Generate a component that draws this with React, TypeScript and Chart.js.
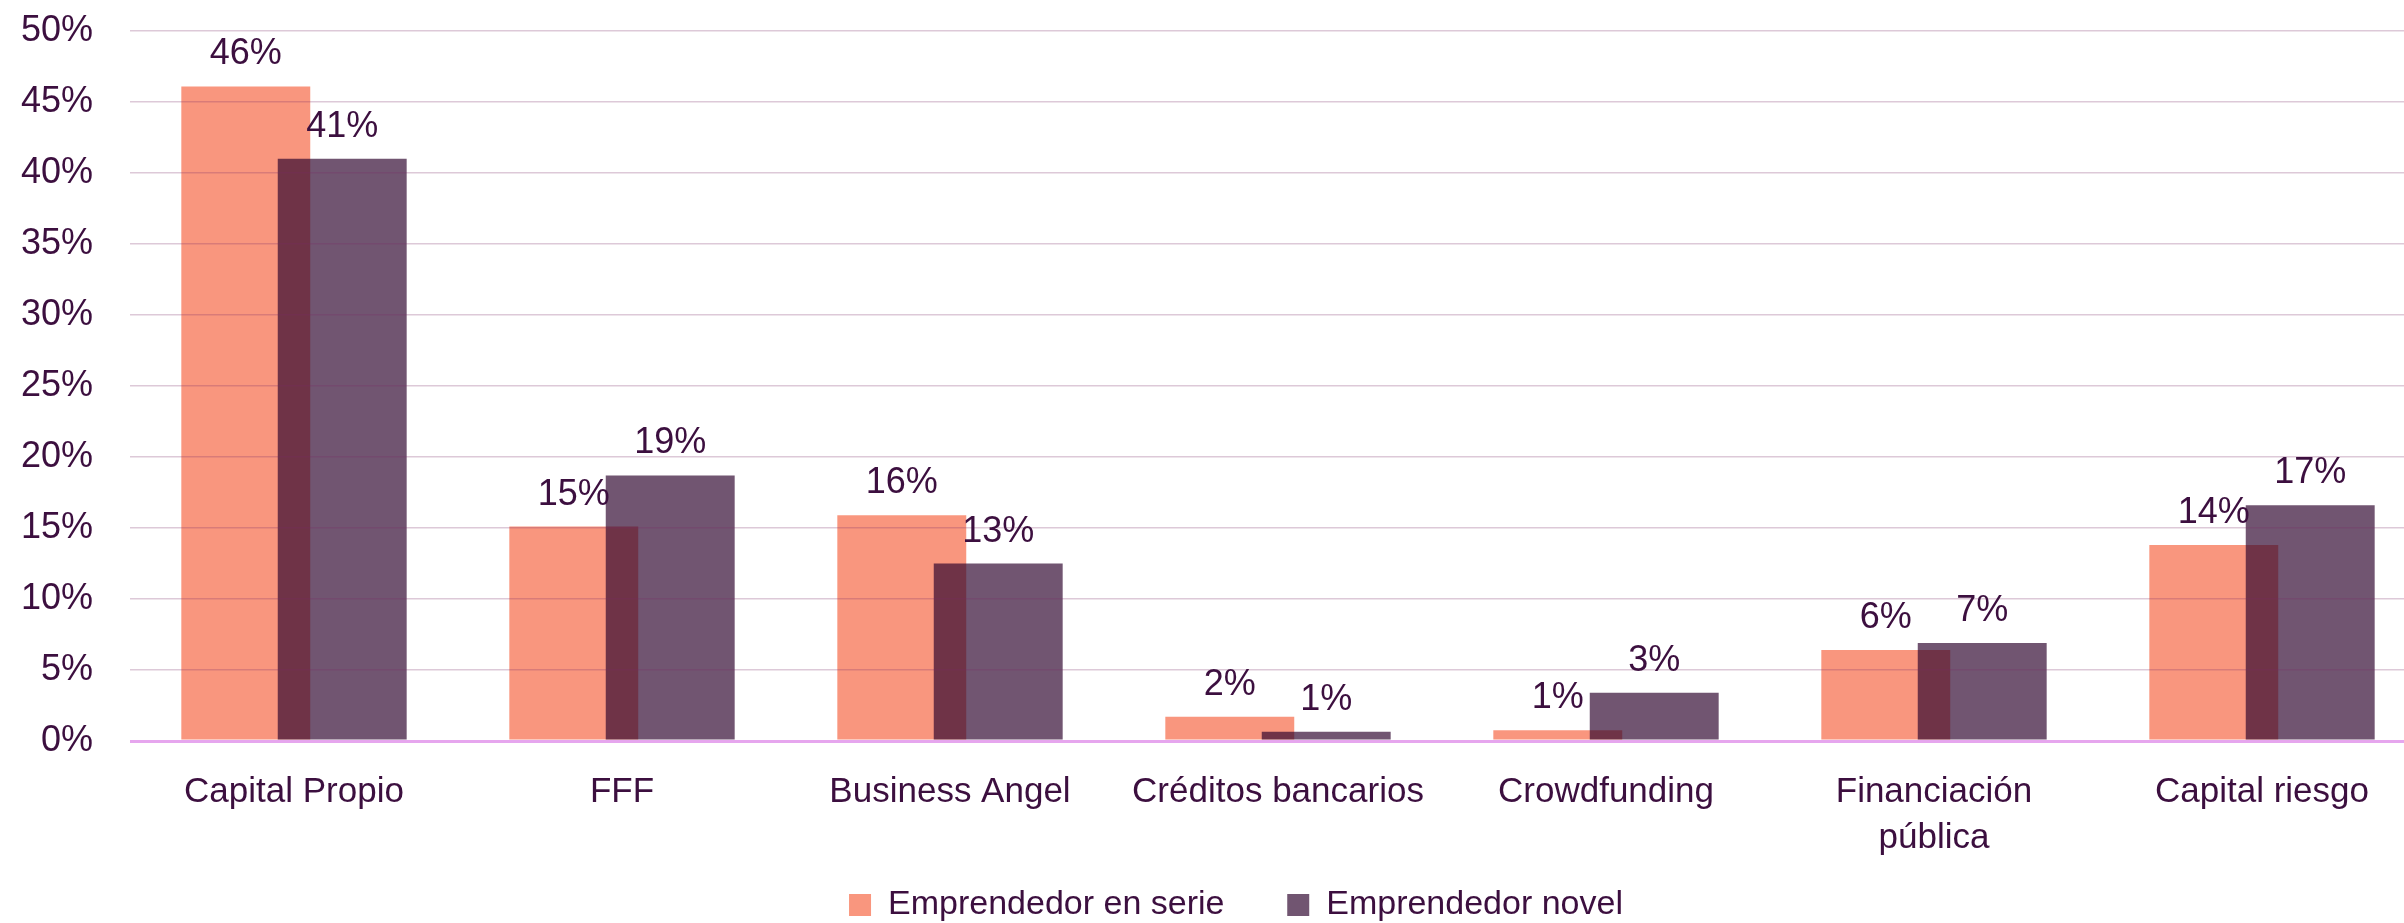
import React, { useEffect, useRef } from "react";
import { Chart, registerables } from "chart.js";

Chart.register(...registerables);

const categories: (string | string[])[] = [
  "Capital Propio",
  "FFF",
  "Business Angel",
  "Créditos bancarios",
  "Crowdfunding",
  ["Financiación", "pública"],
  "Capital riesgo",
];
const serieLabel = "Emprendedor en serie";
const novelLabel = "Emprendedor novel";
const serieValues = [46.1, 15.1, 15.9, 1.7, 0.75, 6.4, 13.8];
const novelValues = [41.0, 18.7, 12.5, 0.65, 3.4, 6.9, 16.6];
const yTicksMax = 50;
const yTickStep = 5;

const TEXT = "#3C0F3F";
const FONT = "'Liberation Sans', Arial, sans-serif";

// Chart.js draws dataset 0 last (on top); the reference has the novel series on top.
const topOrderPlugin = {
  id: "novelOnTop",
  beforeDatasetDraw(chart: any, args: any) {
    if (args.index === 1 && !chart.$novelPass) return false;
  },
  afterDatasetsDraw(chart: any) {
    chart.$novelPass = true;
    const meta = chart.getDatasetMeta(1);
    if (meta && !meta.hidden) meta.controller.draw();
    chart.$novelPass = false;
  },
};

const labelPlugin = {
  id: "barValueLabels",
  afterDraw(chart: any) {
    const ctx = chart.ctx;
    ctx.save();
    ctx.font = `36px ${FONT}`;
    ctx.fillStyle = TEXT;
    ctx.textAlign = "center";
    ctx.textBaseline = "alphabetic";
    chart.data.datasets.forEach((ds: any, di: number) => {
      const meta = chart.getDatasetMeta(di);
      meta.data.forEach((el: any, i: number) => {
        const v = ds.data[i] as number;
        ctx.fillText(Math.round(v) + "%", el.x, el.y - 22);
      });
    });
    ctx.restore();
  },
};

export default function App() {
  const ref = useRef<HTMLCanvasElement | null>(null);
  useEffect(() => {
    if (!ref.current) return;
    const chart = new Chart(ref.current, {
      type: "bar",
      data: {
        labels: categories,
        datasets: [
          {
            label: serieLabel,
            data: serieValues,
            backgroundColor: "rgba(248,132,103,0.85)",
            categoryPercentage: 0.588,
            barPercentage: 1.337,
          },
          {
            label: novelLabel,
            data: novelValues,
            backgroundColor: "rgba(46,4,45,0.68)",
            categoryPercentage: 0.588,
            barPercentage: 1.337,
          },
        ],
      },
      options: {
        animation: false,
        responsive: true,
        maintainAspectRatio: false,
        layout: { padding: { left: 0, right: 0, top: 31, bottom: -9 } },
        plugins: {
          tooltip: { enabled: false },
          legend: {
            position: "bottom",
            labels: {
              boxWidth: 22,
              boxHeight: 22,
              padding: 25,
              color: TEXT,
              font: { family: FONT, size: 34 },
              generateLabels: (chart: any) => {
                const items = Chart.defaults.plugins.legend.labels.generateLabels(chart);
                if (items.length > 1) items[0].text = items[0].text + "    ";
                return items;
              },
            },
          },
        },
        scales: {
          x: {
            grid: { display: false, drawTicks: false },
            border: { display: false },
            ticks: {
              color: TEXT,
              font: { family: FONT, size: 35, lineHeight: 1.3 },
              padding: 29,
              maxRotation: 0,
              autoSkip: false,
            },
            afterFit: (s: any) => {
              s.height = 122;
            },
          },
          y: {
            min: 0,
            max: yTicksMax,
            border: { display: false },
            grid: {
              z: 1,
              drawTicks: false,
              color: (c: any) => (c.tick && c.tick.value === 0 ? "#E6A6EE" : "rgba(120,40,100,0.25)"),
              lineWidth: (c: any) => (c.tick && c.tick.value === 0 ? 3 : 1.5),
            },
            ticks: {
              stepSize: yTickStep,
              color: TEXT,
              padding: 37,
              font: { family: FONT, size: 36 },
              callback: (v: any) => v + "%",
            },
            afterFit: (s: any) => {
              s.width = 130;
              s.paddingTop = 0;
              s.paddingBottom = 0;
            },
          },
          yRight: {
            position: "right",
            display: true,
            min: 0,
            max: yTicksMax,
            grid: { display: false, drawTicks: false },
            border: { display: false },
            ticks: { display: false },
            afterFit: (s: any) => {
              s.width = 46;
              s.paddingTop = 0;
              s.paddingBottom = 0;
            },
          },
        },
      },
      plugins: [topOrderPlugin, labelPlugin],
    });
    return () => chart.destroy();
  }, []);
  return (
    <div style={{ position: "fixed", left: 0, top: 0, width: 2404, height: 923, overflow: "hidden", background: "#fff" }}>
      <div style={{ position: "absolute", left: 0, top: 0, width: 2472, height: 923 }}>
        <canvas ref={ref} />
      </div>
    </div>
  );
}
